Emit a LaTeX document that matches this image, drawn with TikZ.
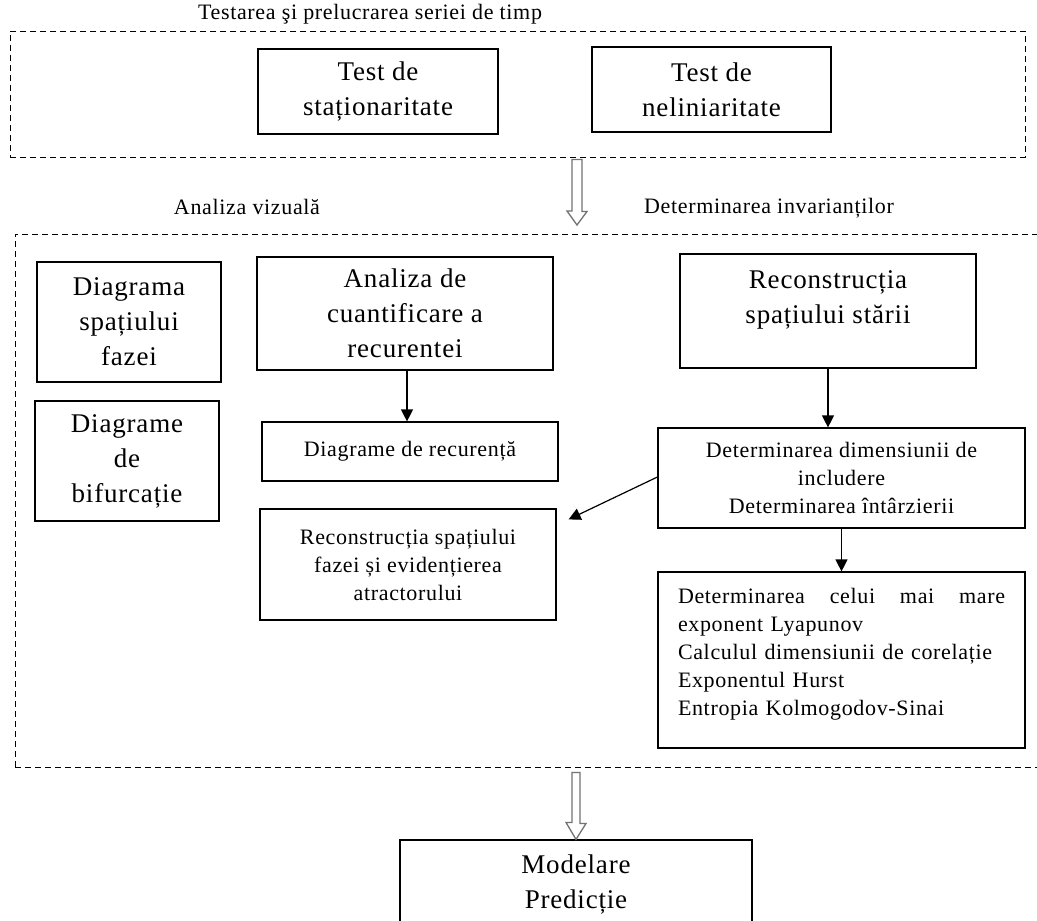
\documentclass[tikz,border=0pt]{standalone}
\usepackage{fontspec}
\setmainfont{Liberation Serif}[LetterSpace=3]
\usetikzlibrary{arrows.meta}
\tikzset{
  box/.style={draw=black, line width=1.2pt, rectangle, inner sep=0pt, align=center},
  cont/.style={draw=black, line width=1pt, dash pattern=on 6pt off 4pt, rectangle, inner sep=0pt},
  big/.style={font=\fontsize{27}{35}\selectfont},
  med/.style={font=\fontsize{22}{28}\selectfont},
  lbl/.style={font=\fontsize{22}{24}\selectfont, inner sep=0pt},
  conn/.style={draw=black, line width=1.2pt, -{Triangle[length=12pt,width=12pt]}},
  hollow/.style={draw=black!55, line width=1.3pt, fill=white, line join=miter},
}
\begin{document}
\begin{tikzpicture}[x=1pt,y=-1pt]
\useasboundingbox (0,0) rectangle (1037,921);
\clip (0,0) rectangle (1037,921);
\fill[white] (0,0) rectangle (1037,921);

% top container
\node[cont, minimum width=1015pt, minimum height=126pt] (top) at (517.5,94) {};
\node[lbl, anchor=base] (title) at (370,19) {Testarea şi prelucrarea seriei de timp};
\node[box, big, minimum width=240pt, minimum height=85pt] (stat) at (378,91.5) {Test de\\staționaritate};
\node[box, big, minimum width=239pt, minimum height=85pt] (nelin) at (711.5,89.5) {Test de\\neliniaritate};

% second container (open to the right)
\node[cont, minimum width=1030pt, minimum height=533pt] (mid) at (530,500.5) {};
\node[lbl, anchor=base] (vis) at (247,214) {Analiza vizuală};
\node[lbl, anchor=base] (inv) at (769,213) {Determinarea invarianților};

\node[box, big, minimum width=184pt, minimum height=120pt] (diagF) at (129,322) {Diagrama\\spațiului\\fazei};
\node[box, big, minimum width=184pt, minimum height=120pt] (diagB) at (127,461) {Diagrame\\de\\bifurcație};
\node[box, big, minimum width=296pt, minimum height=113pt] (aqr) at (405,313.5) {Analiza de\\cuantificare a\\recurentei};
\node[box, med, minimum width=296pt, minimum height=59pt] (diagR) at (410,451.5) {Diagrame de recurență};
\node[box, med, minimum width=296pt, minimum height=111pt] (recF) at (408,564.5) {Reconstrucția spațiului\\fazei și evidențierea\\atractorului};
\node[box, big, minimum width=296pt, minimum height=114pt] (recS) at (828,311) {Reconstrucția\\spațiului stării\\[-8pt]\mbox{}};
\node[box, med, minimum width=367pt, minimum height=100pt] (detD) at (841.5,478) {Determinarea dimensiunii de\\includere\\Determinarea întârzierii};
\node[box, med, minimum width=367pt, minimum height=176pt, text width=327pt, align=left] (lyap) at (841.5,660)
  {Determinarea\hfill celui\hfill mai\hfill mare\\exponent Lyapunov\\Calculul dimensiunii de corelație\\Exponentul Hurst\\Entropia Kolmogodov-Sinai\\[-12pt]\mbox{}};

\node[box, big, minimum width=352pt, minimum height=88pt] (model) at (576,884) {Modelare\\Predicție};

% connectors
\draw[conn] ([xshift=2pt]aqr.south) -- ([xshift=2pt]aqr.south |- diagR.north);
\draw[conn] (recS.south) -- (recS.south |- detD.north);
\draw[conn] (detD.south) -- (lyap.north);
\draw[conn] ([yshift=1pt]detD.west) -- ([xshift=12pt,yshift=-11pt]recF.north east);

% hollow arrows
\coordinate (a1s) at ([xshift=59.5pt,yshift=-2pt]top.south);
\coordinate (a1e) at (a1s |- 0,225);
\draw[hollow] ([xshift=-5pt]a1s) -- ++(10,0) -- ++(0,52) -- ++(5,0) -- (a1e) -- ++(-10,-14) -- ++(5,0) -- cycle;
\coordinate (a2s) at ([yshift=-5pt]model.north |- mid.south);
\draw[hollow] ([xshift=-4pt]a2s) -- ++(8,0) -- ++(0,51) -- ++(6,0) -- (model.north) -- ++(-10,-17) -- ++(6,0) -- cycle;
\end{tikzpicture}
\end{document}
